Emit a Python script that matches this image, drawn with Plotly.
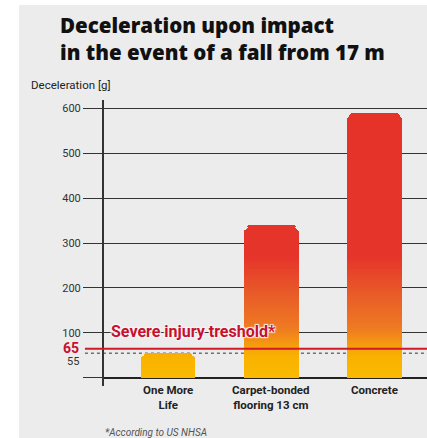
import plotly.graph_objects as go

# ---- data ----
categories = ["One More Life", "Carpet-bonded flooring 13 cm", "Concrete"]
category_labels = ["One More<br>Life", "Carpet-bonded<br>flooring 13 cm", "Concrete"]
values = [55, 338, 588]
y_tickvals = [0, 100, 200, 300, 400, 500, 600]
y_ticktext = ["", "100", "200", "300", "400", "500", "600"]
threshold = 65
reference_level = 55
title_lines = ["Deceleration upon impact", "in the event of a fall from 17 m"]
y_title = "Deceleration [g]"
threshold_label = "Severe injury treshold*"
footnote = "*According to US NHSA"

# gradient stops (value on axis -> colour)
grad_values = [0, 50, 110, 190, 270, 700]
grad_colors = ["#fbba00", "#f9b100", "#ef7b22", "#e85a28", "#e5342a", "#e5332a"]


def hex_to_rgb(h):
    h = h.lstrip("#")
    return tuple(int(h[i:i + 2], 16) for i in (0, 2, 4))


def color_at(v):
    for i in range(len(grad_values) - 1):
        a, b = grad_values[i], grad_values[i + 1]
        if a <= v <= b:
            t = (v - a) / (b - a)
            c0, c1 = hex_to_rgb(grad_colors[i]), hex_to_rgb(grad_colors[i + 1])
            c = [round(c0[k] + (c1[k] - c0[k]) * t) for k in range(3)]
            return "rgb(%d,%d,%d)" % tuple(c)
    return grad_colors[-1]


fig = go.Figure()

step = 4
n_levels = int(max(values) // step) + 1
first = True
for k in range(n_levels):
    lo = k * step
    ys = [max(0, min(step, v - lo)) for v in values]
    if not any(ys):
        continue
    fig.add_trace(go.Bar(
        x=categories, y=ys, width=0.53,
        marker=dict(color=color_at(lo + step / 2), line=dict(width=0),
                    cornerradius=7 if first else None),
        showlegend=False, hoverinfo="skip",
    ))
    first = False

dark = "#333333"
fig.update_layout(
    width=427, height=438, autosize=False,
    margin=dict(l=104, r=0, t=100, b=52),
    paper_bgcolor="white", plot_bgcolor="rgba(0,0,0,0)",
    barmode="stack", bargap=0,
    xaxis=dict(type="category", range=[-0.62, 2.51], showticklabels=False,
               showgrid=False, zeroline=False, showline=False, ticks=""),
    yaxis=dict(range=[-18, 618], tickvals=y_tickvals, ticktext=y_ticktext,
               ticks="outside", ticklen=19, tickcolor=dark, tickwidth=1,
               showgrid=True, gridcolor=dark, gridwidth=1,
               showline=True, linecolor=dark, linewidth=2,
               zeroline=True, zerolinecolor="#222", zerolinewidth=2,
               tickfont=dict(family="Roboto", size=11, color=dark)),
    font=dict(family="Roboto"),
)

# background panel
fig.add_shape(type="rect", xref="paper", yref="paper",
              x0=-0.263, x1=1.01, y0=-0.3, y1=1.332,
              fillcolor="#ececec", line=dict(width=0), layer="below")

# reference dashed line (55)
fig.add_shape(type="line", xref="paper", yref="y", x0=-0.059, x1=1,
              y0=reference_level, y1=reference_level,
              line=dict(color=dark, width=1, dash="dot"), layer="below")
# threshold line (65)
fig.add_shape(type="line", xref="paper", yref="y", x0=-0.059, x1=1,
              y0=threshold, y1=threshold,
              line=dict(color="#d01a2a", width=2), layer="above")

# title
fig.add_annotation(xref="paper", yref="paper", x=-0.142, y=1.318,
                   xanchor="left", yanchor="top", align="left",
                   text="<br>".join(title_lines), showarrow=False,
                   font=dict(family="Open Sans", size=20.5, color="#111", weight=800))
# y title
fig.add_annotation(xref="paper", yref="paper", x=-0.232, y=1.052,
                   xanchor="left", yanchor="middle", text=y_title, showarrow=False,
                   font=dict(family="Roboto", size=11.5, color="#222"))
# 65 and 55 labels
fig.add_annotation(xref="paper", yref="y", x=-0.07, y=threshold, yshift=1,
                   xanchor="right", yanchor="middle", text=str(threshold), showarrow=False,
                   font=dict(family="Roboto", size=14, color="#c8102e", weight="bold"))
fig.add_annotation(xref="paper", yref="y", x=-0.07, y=reference_level, yshift=-8,
                   xanchor="right", yanchor="middle", text=str(reference_level), showarrow=False,
                   font=dict(family="Roboto", size=11, color=dark))
# threshold label
halo = "#f6f6f6"
fig.add_annotation(xref="paper", yref="y", x=0.015, y=100, yshift=1,
                   xanchor="left", yanchor="middle", text=threshold_label, showarrow=False,
                   font=dict(family="Roboto", size=16, color="#c8102e", weight="bold",
                             shadow="1px 1px 1px %s, -1px -1px 1px %s, 1px -1px 1px %s, -1px 1px 1px %s" % (halo, halo, halo, halo)))
# category labels
for c, lab in zip(categories, category_labels):
    fig.add_annotation(x=c, y=0, yshift=-3, xanchor="center", yanchor="top",
                       text=lab, showarrow=False,
                       font=dict(family="Roboto", size=11.5, color="#222", weight="bold"))
# footnote
fig.add_annotation(xref="paper", yref="paper", x=-0.003, y=-0.164,
                   xanchor="left", yanchor="middle", text=footnote, showarrow=False,
                   font=dict(family="Roboto", size=10, color="#555", style="italic"))

fig.write_html("out.html", config={"displayModeBar": False},
               post_script="document.body.style.margin='0px';")
